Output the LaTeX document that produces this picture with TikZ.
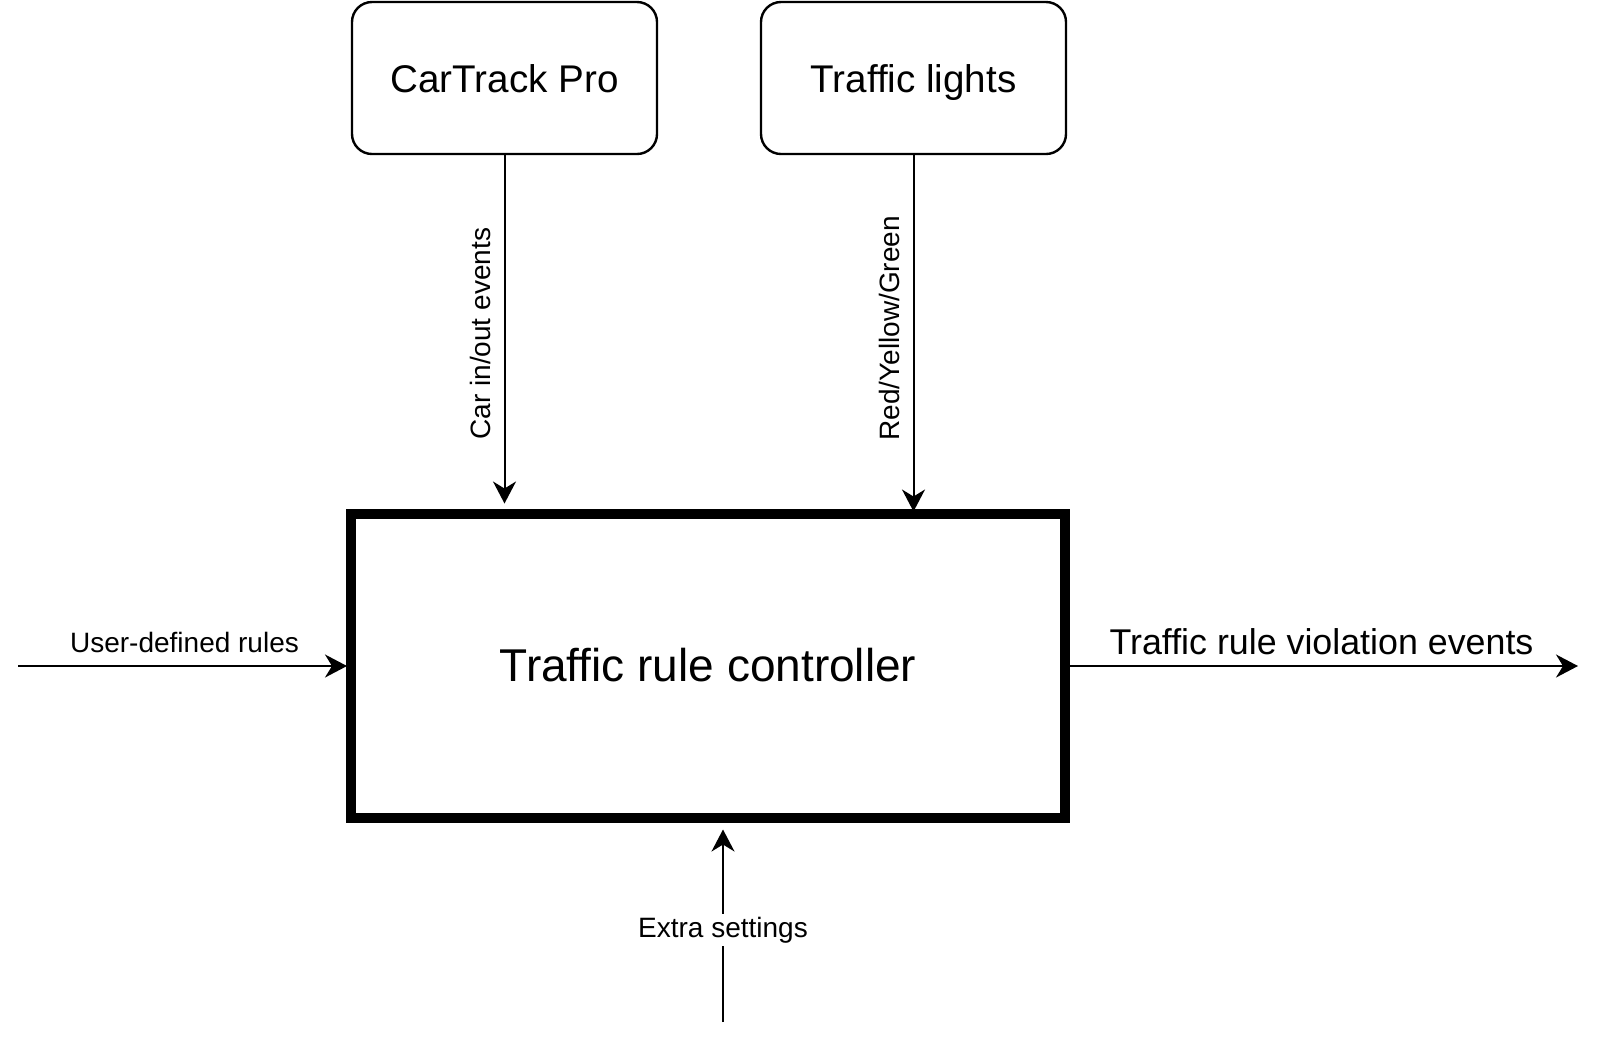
\documentclass[tikz,border=0pt]{standalone}
\usepackage{fontspec}
\setmainfont{Liberation Sans}
\usetikzlibrary{arrows.meta}
\begin{document}
\begin{tikzpicture}[x=0.5pt,y=-0.5pt,
  srcbox/.style={draw, line width=1.2pt, rounded corners=10pt, minimum width=152.5pt, minimum height=76pt, inner sep=0pt, outer sep=0pt, text height=14pt, text depth=0pt, font=\fontsize{19.3}{23}\selectfont},
  ctrlbox/.style={draw, line width=5pt, minimum width=357pt, minimum height=152pt, inner sep=0pt, outer sep=0pt, font=\fontsize{23}{28}\selectfont},
  arr/.style={line width=1pt, -{Stealth[length=11pt, width=11.5pt, inset=3.5pt]}},
  vlab/.style={rotate=90, anchor=south, inner sep=6.5pt, font=\fontsize{14}{17}\selectfont},
  hlab/.style={anchor=base, yshift=7pt, inner sep=0pt, font=\fontsize{14}{17}\selectfont},
  hlabbig/.style={anchor=base, yshift=6pt, inner sep=0pt, font=\fontsize{17.9}{21}\selectfont},
  elab/.style={fill=white, inner sep=1.5pt, font=\fontsize{14}{17}\selectfont}
]
\useasboundingbox (0,0) rectangle (1600,1046);
\fill[white] (0,0) rectangle (1600,1046);

\node[srcbox] (cartrack) at (504.5,78) {CarTrack Pro};
\node[srcbox] (lights) at (913.5,78) {Traffic lights};
\node[ctrlbox] (ctrl) at (708,665.5) {Traffic rule controller};

\draw[arr, shorten >=5pt] (cartrack.south) -- node[vlab, midway]{Car in/out events} (cartrack.south |- ctrl.north);
\draw[arr, shorten >=1pt] (lights.south) -- node[vlab, pos=0.485]{Red/Yellow/Green} (lights.south |- ctrl.north);

\coordinate (uin) at (18,666);
\draw[arr, shorten >=2pt] (uin) -- node[hlab, midway]{User-defined rules} (uin -| ctrl.west);

\coordinate (vout) at (1578,666);
\draw[arr] (vout -| ctrl.east) -- node[hlabbig, midway]{Traffic rule violation events} (vout);

\coordinate (xin) at (723,1022);
\draw[arr, shorten >=6pt] (xin) -- node[elab, pos=0.45]{Extra settings} (xin |- ctrl.south);
\end{tikzpicture}
\end{document}
